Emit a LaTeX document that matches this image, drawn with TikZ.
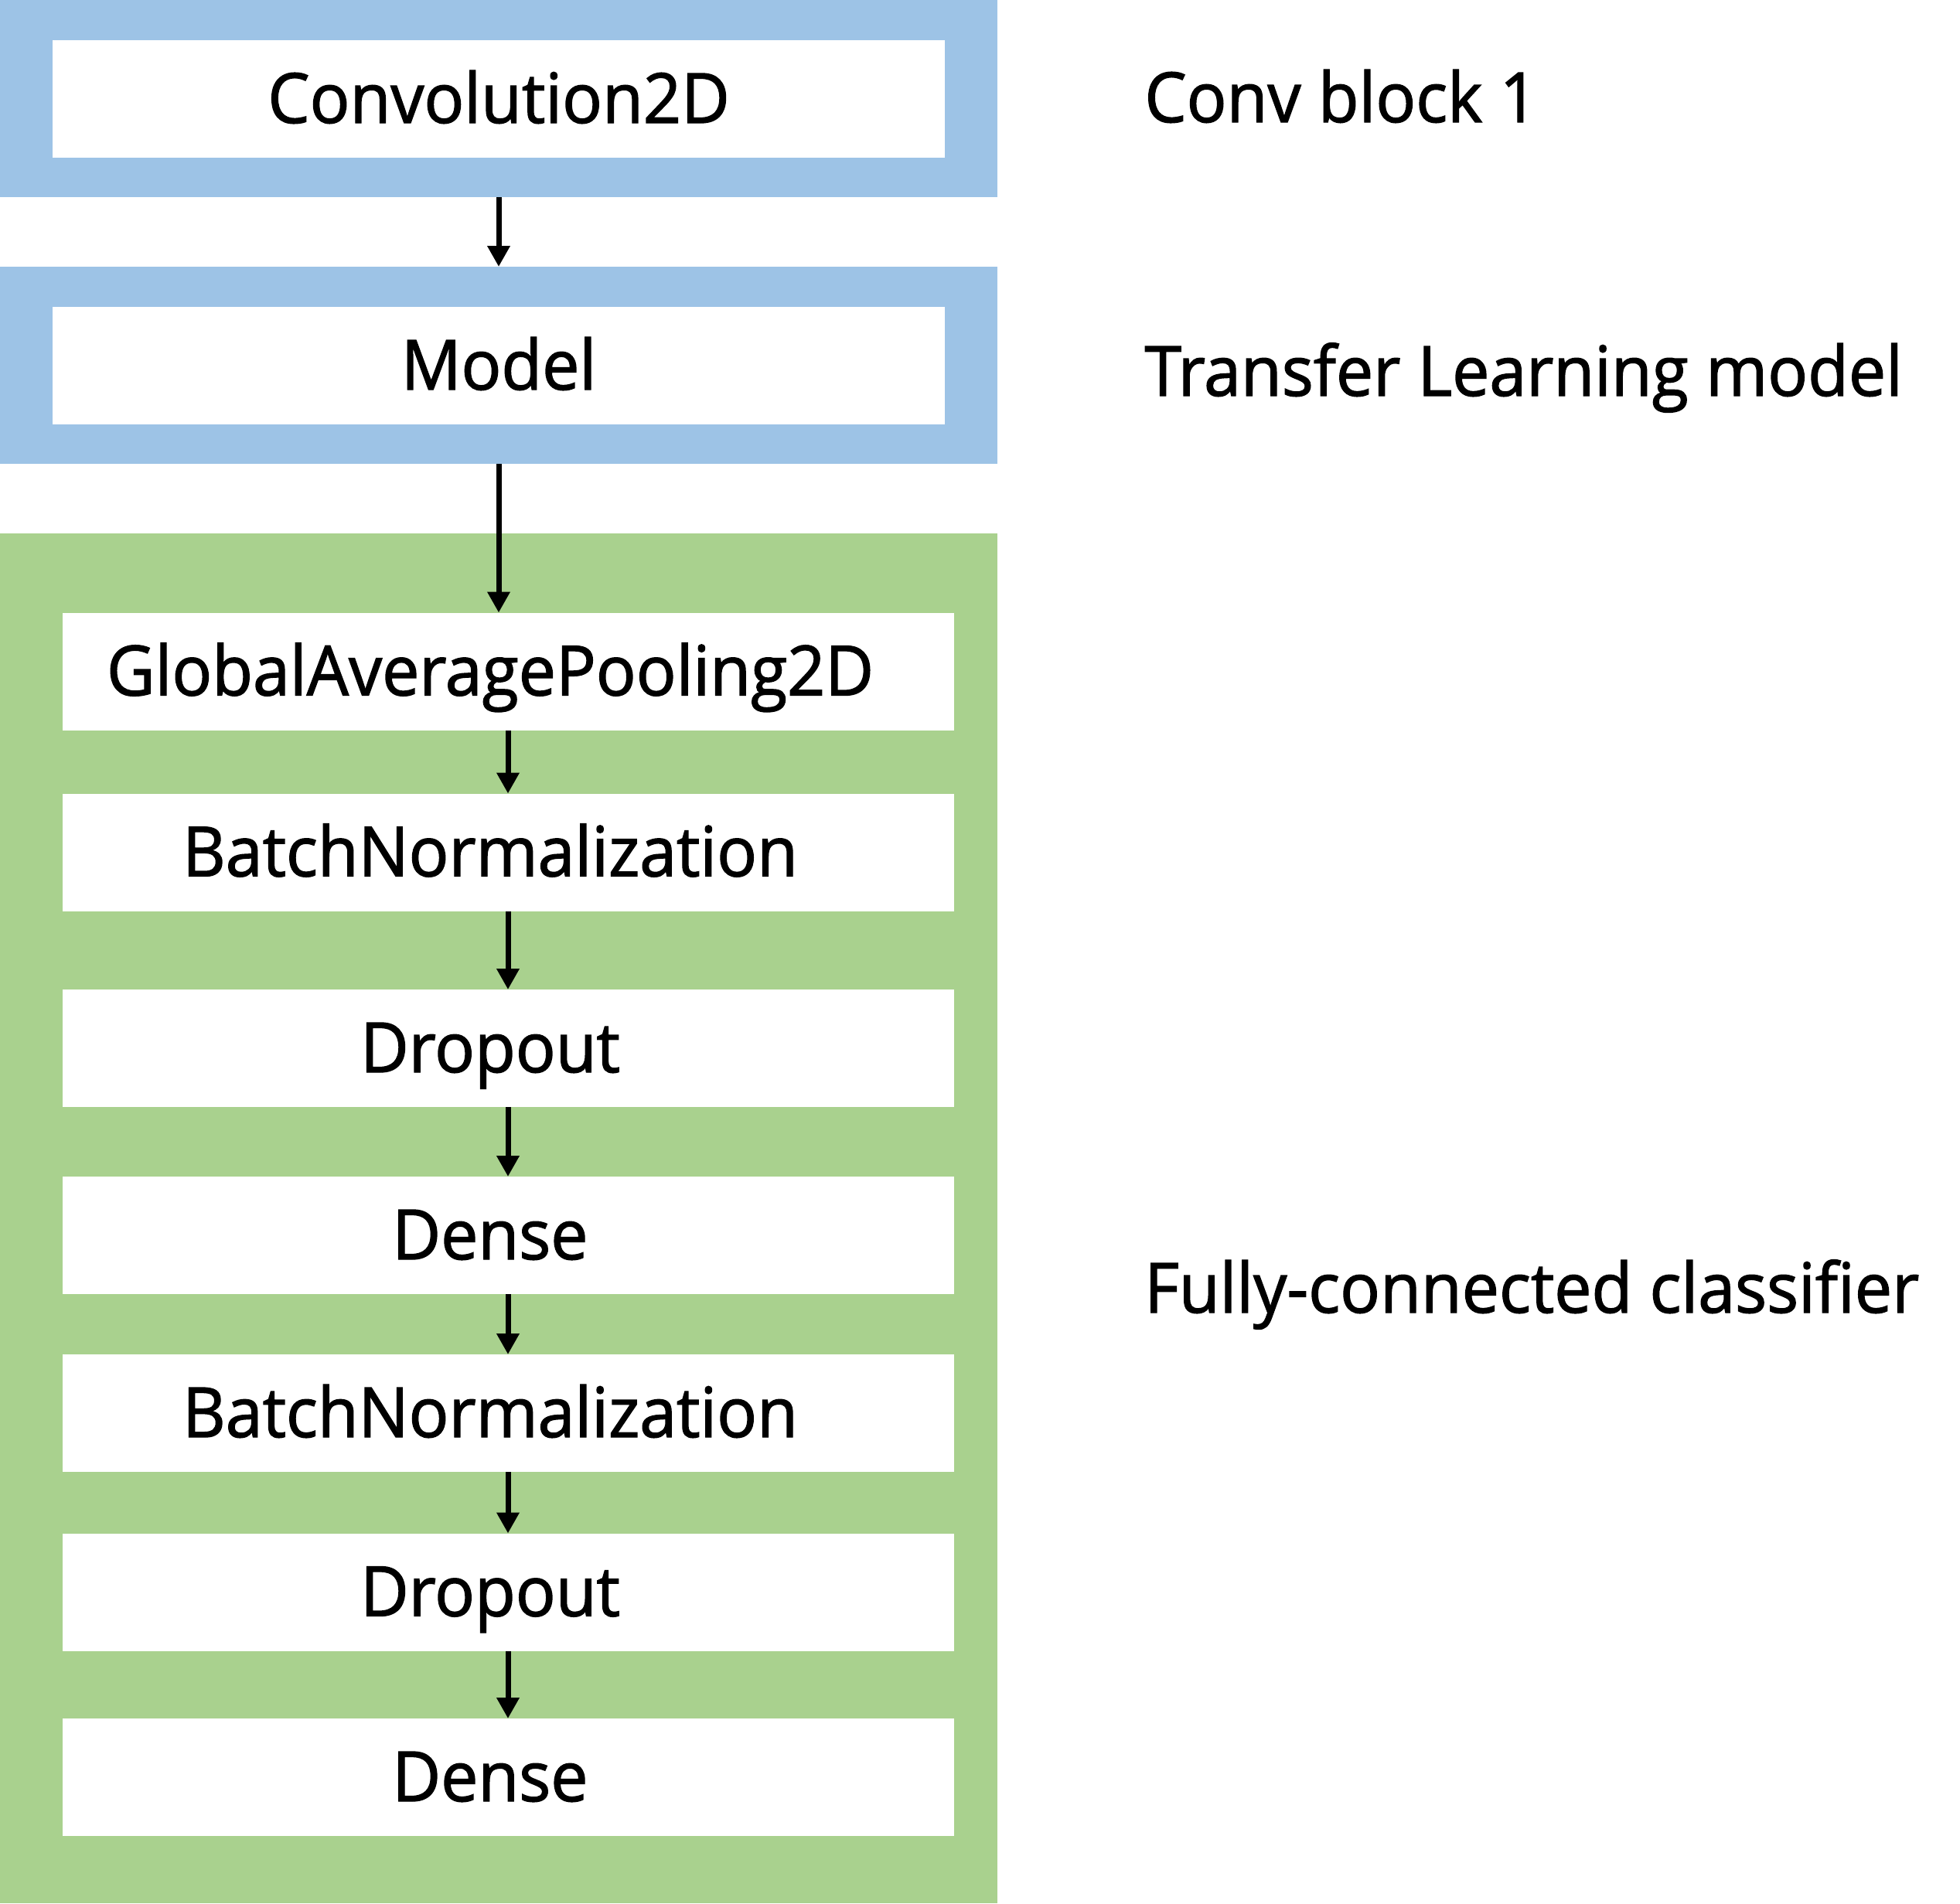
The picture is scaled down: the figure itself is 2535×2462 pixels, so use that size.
\documentclass[tikz,border=0pt]{standalone}
\usepackage{fontspec}
\setmainfont{Open Sans}[FakeStretch=0.96,FakeBold=1.5]
\usetikzlibrary{arrows.meta}
\definecolor{lblue}{HTML}{9DC3E6}
\definecolor{lgreen}{HTML}{A9D18E}
\begin{document}
\begin{tikzpicture}[x=0.5pt,y=-0.5pt,
  panel/.style={draw=none,inner sep=0pt,outer sep=0pt,minimum width=645pt},
  bluepanel/.style={panel,fill=lblue,minimum height=127.5pt},
  greenpanel/.style={panel,fill=lgreen,minimum height=886pt},
  wbox/.style={draw=none,fill=white,inner sep=0pt,outer sep=0pt,minimum height=76pt},
  wboxb/.style={wbox,minimum width=577pt},
  wboxg/.style={wbox,minimum width=576.5pt},
  lbl/.style={inner sep=0pt,anchor=base,font=\fontsize{44.8pt}{50pt}\selectfont},
  side/.style={inner sep=0pt,anchor=base west,font=\fontsize{44.8pt}{50pt}\selectfont},
  arr/.style={line width=3.5pt,-{Triangle[length=13.5pt,width=14pt]}}]
\useasboundingbox (0,0) rectangle (2535,2462);
\fill[white] (0,0) rectangle (2535,2462);
% panels
\node[bluepanel] (b1) at (645,127.5) {};
\node[bluepanel] (b2) at (645,472.5) {};
\node[greenpanel] (g) at (645,1576) {};
% white boxes
\node[wboxb] (conv) at (645,128) {};
\node[wboxb] (model) at (645,473) {};
\node[wboxg] (gap) at (657,868.5) {};
\node[wboxg] (bn1) at (657,1102.5) {};
\node[wboxg] (do1) at (657,1356) {};
\node[wboxg] (d1) at (657,1598) {};
\node[wboxg] (bn2) at (657,1828) {};
\node[wboxg] (do2) at (657,2059.5) {};
\node[wboxg] (d2) at (657,2299) {};
% texts
\node[lbl] (tconv) at (645,159) {Convolution2D};
\node[lbl] (tmodel) at (645,504) {Model};
\node[lbl] (tgap) at (634,899.5) {GlobalAveragePooling2D};
\node[lbl] (tbn1) at (634,1133.5) {BatchNormalization};
\node[lbl] (tdo1) at (634,1387) {Dropout};
\node[lbl] (td1) at (634,1629) {Dense};
\node[lbl] (tbn2) at (634,1859) {BatchNormalization};
\node[lbl] (tdo2) at (634,2090.5) {Dropout};
\node[lbl] (td2) at (634,2330) {Dense};
% side labels
\node[side] (s1) at (1480,158) {Conv block 1};
\node[side] (s2) at (1480,512) {Transfer Learning model};
\node[side] (s3) at (1480,1698) {Fully-connected classifier};
% arrows
\draw[arr] (b1.south) -- (b2.north);
\draw[arr] (b2.south) -- (b2.south |- gap.north);
\draw[arr] (gap.south) -- (bn1.north);
\draw[arr] (bn1.south) -- (do1.north);
\draw[arr] (do1.south) -- (d1.north);
\draw[arr] (d1.south) -- (bn2.north);
\draw[arr] (bn2.south) -- (do2.north);
\draw[arr] (do2.south) -- (d2.north);
\end{tikzpicture}
\end{document}
